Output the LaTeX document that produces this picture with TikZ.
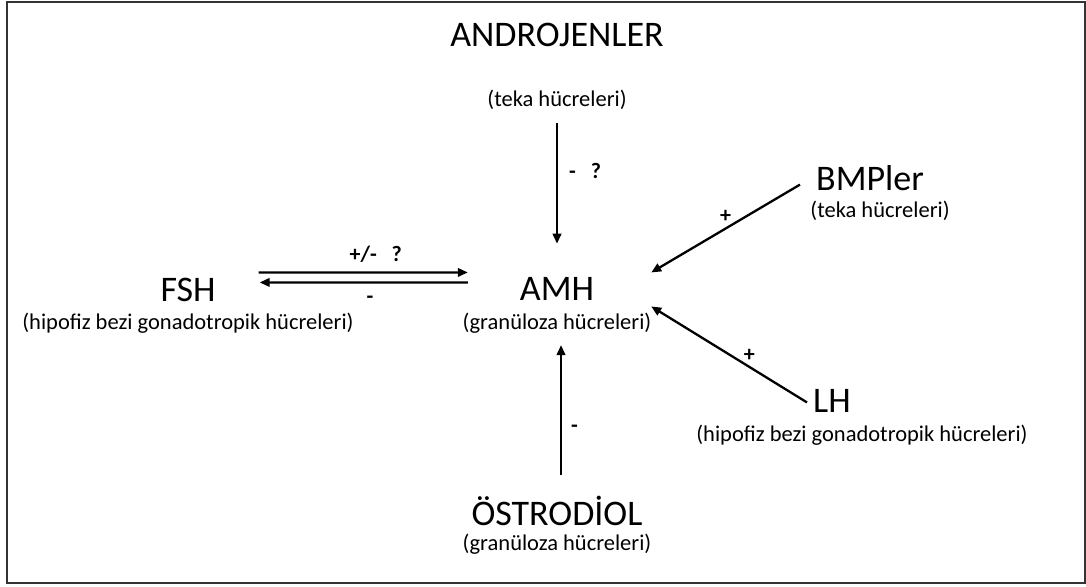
\documentclass[tikz,border=0pt]{standalone}
\usepackage{fontspec}
\setmainfont{Carlito}
\usetikzlibrary{arrows.meta}

\begin{document}
\begin{tikzpicture}[x=1pt, y=1pt,
  title/.style = {anchor=base, inner sep=0pt, font=\fontsize{36}{40}\selectfont},
  sub/.style = {anchor=base, inner sep=0pt, font=\fontsize{22.5}{26}\selectfont},
  lbl/.style = {inner sep=0pt, font=\fontsize{22}{24}\selectfont\bfseries},
  arr/.style = {line width=2.3pt, -{Triangle[length=10pt,width=8.5pt]}}]

  \useasboundingbox (0,0) rectangle (1086,586);
  \draw[line width=2pt, gray!40!black] (7,3) rectangle (1085,584);

  % hormon ve kaynak hucreleri
  \node[title] (andro)  at (557,539) {ANDROJENLER};
  \node[sub]   (andsub) at (557,479) {(teka hücreleri)};
  \node[title] (amh)    at (557,285) {AMH};
  \node[sub]   (amhsub) at (557,256) {(granüloza hücreleri)};
  \node[title] (fsh)    at (188,284) {FSH};
  \node[sub]   (fshsub) at (188,256) {(hipofiz bezi gonadotropik hücreleri)};
  \node[title] (bmp)    at (870,395) {BMPler};
  \node[sub]   (bmpsub) at (880,368) {(teka hücreleri)};
  \node[title] (lh)     at (832,173) {LH};
  \node[sub]   (lhsub)  at (862,144) {(hipofiz bezi gonadotropik hücreleri)};
  \node[title] (ost)    at (557,60)  {ÖSTRODİOL};
  \node[sub]   (ostsub) at (557,35)  {(granüloza hücreleri)};

  % etkiler
  \draw[arr] ([yshift=-13pt]andsub.south -| amh.north)
    -- node[lbl, right=11pt, pos=.4] {-\ \ \ ?} ([yshift=34pt]amh.north);
  \draw[arr] ([xshift=43pt,yshift=18pt]fsh.east)
    -- node[lbl, above=9pt, pos=.56] {+/-\ \ \ ?} ([xshift=-52pt,yshift=17pt]amh.west);
  \draw[arr] ([xshift=-52pt,yshift=7pt]amh.west)
    -- node[lbl, below=12pt, pos=.47] {-} ([xshift=44pt,yshift=8pt]fsh.east);
  \draw[arr] ([xshift=-16pt,yshift=-6pt]bmp.west)
    -- node[lbl, above=5pt] {+} ([xshift=57pt,yshift=17pt]amh.east);
  \draw[arr] ([xshift=-6pt,yshift=-1pt]lh.west)
    -- node[lbl, above=4pt, pos=.37] {+} ([xshift=57pt,yshift=-17pt]amh.east);
  \draw[arr] ([xshift=4pt,yshift=21pt]ost.north -| amh.south)
    -- node[lbl, right=9pt, pos=.36] {-} ([xshift=4pt,yshift=-11pt]amhsub.south);

\end{tikzpicture}
\end{document}
